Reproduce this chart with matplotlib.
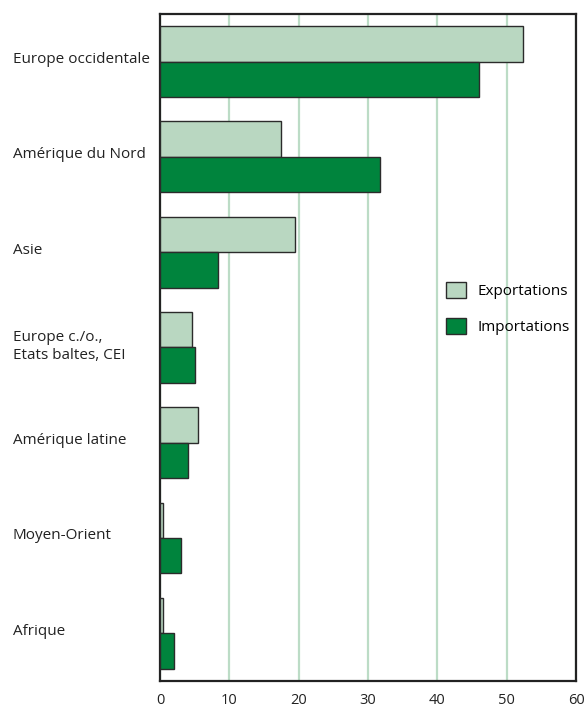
import matplotlib
matplotlib.use("Agg")
import matplotlib.pyplot as plt
import matplotlib.transforms as mtransforms
import numpy as np

# Regions, top to bottom
regions = ['Europe occidentale', 'Amérique du Nord', 'Asie',
           'Europe c./o.,\nEtats baltes, CEI', 'Amérique latine',
           'Moyen-Orient', 'Afrique']
exportations = [52.4, 17.5, 19.5, 4.6, 5.5, 0.4, 0.5]
importations = [46.0, 31.7, 8.3, 5.1, 4.1, 3.1, 2.0]
x_ticks = [0, 10, 20, 30, 40, 50, 60]

light_green = '#b9d7c1'
dark_green = '#00843d'
edge = '#2b2b2b'

plt.rcParams['font.family'] = ['Open Sans', 'DejaVu Sans']

fig = plt.figure(figsize=(5.86, 7.15), dpi=100)
ax = fig.add_axes([0.273, 0.0476, 0.710, 0.9328])

y = np.arange(len(regions))
h = 0.372
ax.barh(y - h / 2, exportations, height=h, color=light_green,
        edgecolor=edge, linewidth=1.0, label='Exportations', zorder=3)
ax.barh(y + h / 2, importations, height=h, color=dark_green,
        edgecolor=edge, linewidth=1.0, label='Importations', zorder=3)

ax.set_xlim(0, 60)
ax.set_ylim(len(regions) - 0.5, -0.5)
ax.set_xticks(x_ticks)
ax.set_xticklabels([str(t) for t in x_ticks], fontsize=10.5, color='#222222')
ax.set_yticks(y)
ax.set_yticklabels(regions, fontsize=11, ha='left', color='#222222')
ax.tick_params(axis='y', length=0, pad=106)
ax.tick_params(axis='x', length=0, pad=9)

# nudge region names up a little
shift = mtransforms.ScaledTranslation(0, 3 / 72, fig.dpi_scale_trans)
for lab in ax.get_yticklabels():
    lab.set_transform(lab.get_transform() + shift)

ax.xaxis.grid(True, color='#bcdcc6', linewidth=1.6, zorder=0)
ax.set_axisbelow(True)
for s in ax.spines.values():
    s.set_color('#222222')
    s.set_linewidth(1.6)

ax.legend(loc='center left', bbox_to_anchor=(0.6875, 0.558), frameon=False,
          borderpad=0, borderaxespad=0, fontsize=11, handlelength=1.3,
          handleheight=1.2, labelspacing=1.25, handletextpad=0.75)

fig.savefig('out.png', dpi=100)
